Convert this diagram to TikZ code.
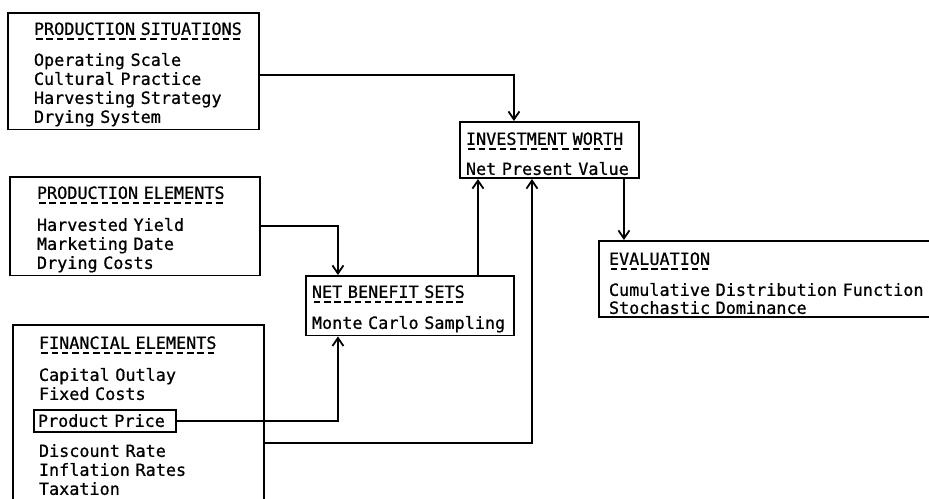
\documentclass[tikz,border=0pt]{standalone}
\usepackage{fontspec}
\setmonofont{DejaVu Sans Mono}[FakeBold=0.8]
\usepackage{tikz}
\usetikzlibrary{arrows.meta}
\newsavebox{\hdbox}
% heading with a dashed underline, #1 = strut height
\newcommand{\hd}[2]{\rule{0pt}{#1}\sbox{\hdbox}{#2}%
  \rlap{\raisebox{-5pt}{\hbox to \wd\hdbox{\xleaders\hbox to 10.1pt{\hss\vrule width 6.5pt height 1.6pt\hss}\hfill}}}%
  \usebox{\hdbox}}

\begin{document}
\begin{tikzpicture}[x=1pt,y=-1pt,
  font=\ttfamily\fontsize{16.8}{19}\selectfont,
  box/.style={draw,line width=1.9pt,anchor=north west,align=left,inner ysep=3pt},
  conn/.style={line width=1.8pt,-{Straight Barb[length=8pt,width=11pt]}}]
  \useasboundingbox (0,0) rectangle (929,498);
  \clip (0,0) rectangle (929,498);
  % input boxes on the left
  \node[box,inner xsep=26pt,text width=199pt] (sit) at (7,12)
    {\hd{18.9pt}{PRODUCTION SITUATIONS}\\[12pt]
     Operating Scale\\Cultural Practice\\Harvesting Strategy\\Drying System};
  \node[box,inner xsep=27pt,text width=196pt] (elem) at (9,176)
    {\hd{18.9pt}{PRODUCTION ELEMENTS}\\[13pt]
     Harvested Yield\\Marketing Date\\Drying Costs};
  \node[box,inner xsep=26pt,text width=199pt] (fin) at (12,324)
    {\hd{20.9pt}{FINANCIAL ELEMENTS}\\[13pt]
     Capital Outlay\\Fixed Costs\\[9pt]
     \mbox{}\\[10pt]
     Discount Rate\\Inflation Rates\\Taxation\\[10pt]\mbox{}};
  \node[box,inner xsep=4pt,inner ysep=5pt,text width=134pt,text height=11.9pt,text depth=0pt] (price) at (33,409) {Product Price};
  % middle and right boxes
  \node[box,inner xsep=6pt,text width=196pt] (nbs) at (305,275)
    {\hd{18.9pt}{NET BENEFIT SETS}\\[12pt]
     Monte Carlo Sampling};
  \node[box,inner xsep=6pt,text width=167pt] (inv) at (459,121)
    {\hd{19.9pt}{INVESTMENT WORTH}\\[11pt]
     Net Present Value};
  \node[box,inner xsep=10pt,text width=360pt] (eval) at (598,240)
    {\hd{20.9pt}{EVALUATION}\\[12pt]
     Cumulative Distribution Function\\[-1pt]Stochastic Dominance};
  % connectors
  \draw[conn] ([yshift=-4pt]sit.east) -| ([xshift=-35.5pt]inv.north);
  \draw[conn] (elem.east) -| ([xshift=-72pt]nbs.north);
  \draw[conn] (price.east) -| ([xshift=-72pt]nbs.south);
  \draw[conn] ([yshift=-119pt]fin.north east) -| ([xshift=-17.5pt]inv.south);
  \draw[conn] ([xshift=68pt]nbs.north) -- ([xshift=68pt]nbs.north |- inv.south);
  \draw[conn] ([xshift=74.5pt]inv.south) -- ([xshift=74.5pt]inv.south |- eval.north);
\end{tikzpicture}
\end{document}
